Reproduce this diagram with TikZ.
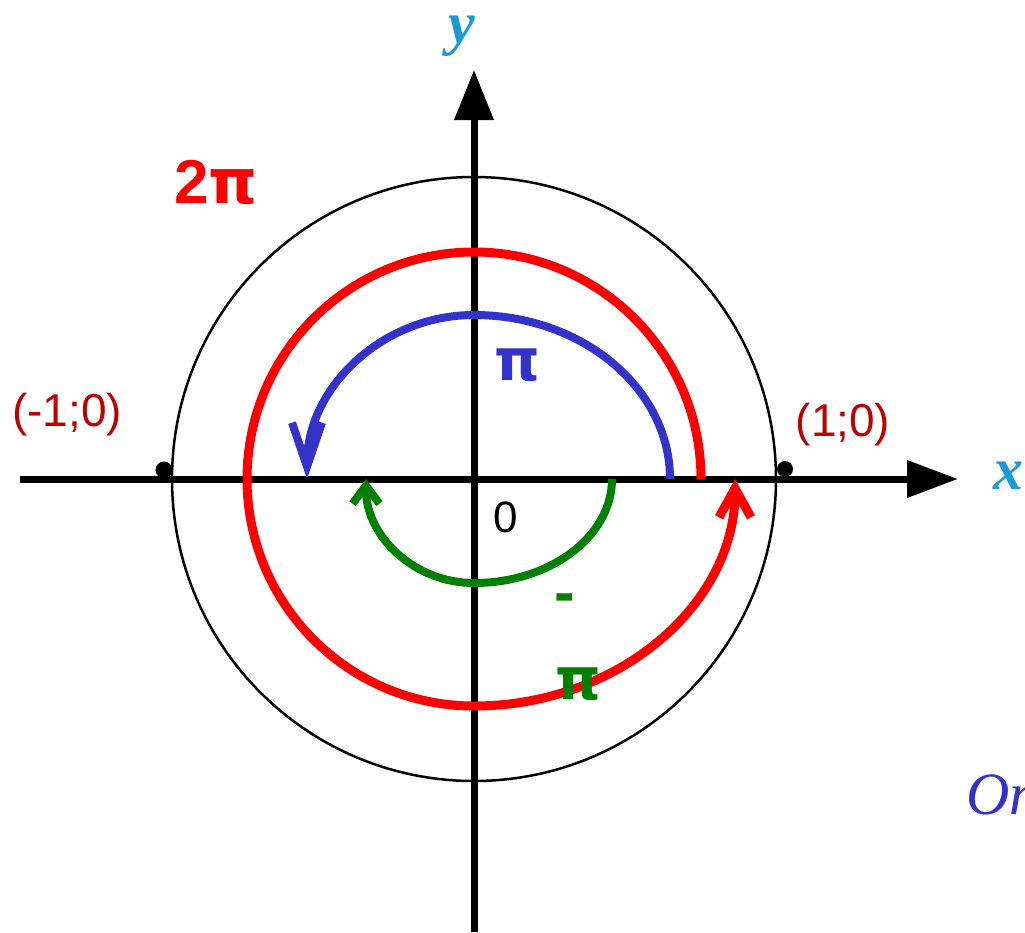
\documentclass[tikz,border=0pt]{standalone}
\usepackage{fontspec}
\setmainfont{Liberation Sans}
\newfontfamily\serifff{Liberation Serif}
\newfontfamily\pifont{DejaVu Sans}
\usetikzlibrary{arrows.meta}
\definecolor{labred}{HTML}{C00000}
\definecolor{arcred}{HTML}{FF0000}
\definecolor{arcblue}{HTML}{3333CC}
\definecolor{arcgreen}{HTML}{008000}
\definecolor{axcyan}{HTML}{1A9AD6}
\tikzset{
  axisline/.style={line width=7pt, black},
  unitcircle/.style={line width=2.5pt, black},
  redarc/.style={line width=9pt, arcred},
  bluearc/.style={line width=8pt, arcblue},
  greenarc/.style={line width=8pt, arcgreen},
  ptlabel/.style={text=labred, font=\fontsize{46}{50}\selectfont, inner sep=0pt},
  axlabel/.style={text=axcyan, font=\serifff\bfseries\itshape\fontsize{60}{62}\selectfont, inner sep=0pt},
  anglabel/.style={font=\bfseries\fontsize{62}{66}\selectfont, inner sep=0pt},
  pilabel/.style={font=\pifont\bfseries\fontsize{58}{62}\selectfont, inner sep=0pt},
}
\begin{document}
\begin{tikzpicture}[x=1pt,y=-1pt]
\useasboundingbox (0,0) rectangle (1025,932);
\clip (0,0) rectangle (1025,932);
\coordinate (O) at (474,479);
% unit circle
\draw[unitcircle] (O) circle[radius=302];
% axes
\coordinate (xs) at (20,479);
\coordinate (xe) at (958,479);
\coordinate (ys) at (474,932);
\coordinate (ye) at (474,70);
\draw[axisline, -{Triangle[length=51pt,width=36pt]}] (xs) -- (xe);
\draw[axisline, -{Triangle[length=50pt,width=38pt]}] (ys) -- (ye);
% points
\fill (164,470) circle[radius=8.5];
\fill (785,469) circle[radius=8];
% red arc 2pi
\draw[redarc, -{Straight Barb[length=29pt,width=32pt]}] (701,479)
  arc[start angle=0, end angle=-270, radius=227]
  arc[start angle=-270, end angle=-360, x radius=261, y radius=227];
% blue arc pi
\draw[bluearc, -{Straight Barb[length=44pt,width=30pt]}] (670,479)
  arc[start angle=0, end angle=-90, x radius=196, y radius=164]
  arc[start angle=-90, end angle=-180, x radius=167, y radius=164];
% green arc -pi
\draw[greenarc, -{Straight Barb[length=18pt,width=27pt]}] (612,479)
  arc[start angle=0, end angle=90, x radius=138, y radius=104]
  arc[start angle=90, end angle=180, x radius=108, y radius=104];
% labels
\node[axlabel] (ylab) at (462,36) {y};
\node[axlabel] (xlab) at (1008,476) {x};
\node[ptlabel] (pm) at (67,415) {(-1;0)};
\node[ptlabel] (pp) at (843,425) {(1;0)};
\node[anglabel, text=arcred] (twopi) at (216,182) {2{\pifont π}};
\node[pilabel, text=arcblue] (pi) at (517,365) {π};
\node[inner sep=0pt, font=\fontsize{44}{48}\selectfont] (zero) at (506,517) {0};
\node[anglabel, text=arcgreen] (minus) at (565,604) {-};
\node[pilabel, text=arcgreen] (mpi) at (578,684) {π};
\node[anchor=west, inner sep=0pt, text=arcblue, font=\serifff\itshape\fontsize{60}{64}\selectfont] (on) at (966,795) {On};
\end{tikzpicture}
\end{document}
